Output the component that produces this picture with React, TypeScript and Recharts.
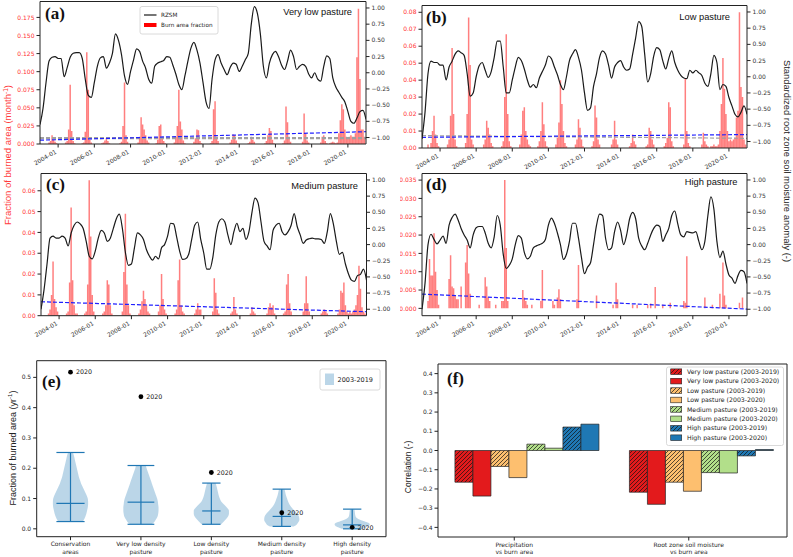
import React from 'react';
import {
  ComposedChart,
  BarChart,
  Bar,
  Line,
  Area,
  XAxis,
  YAxis,
  ReferenceLine,
  ReferenceDot,
} from 'recharts';

const FONT = 'DejaVu Sans';
const LABEL_FONT = 'Liberation Sans';

// ---------- panels (a)-(d): monthly burned fraction + RZSM ----------
const dateTicks = [2004, 2006, 2008, 2010, 2012, 2014, 2016, 2018, 2020];
const rzTicks = [-1, -0.75, -0.5, -0.25, 0, 0.25, 0.5, 0.75, 1];

// monthly values Jan..Dec, 2003 to 2020
const burnA = [
  0, 0, 0, 0, 0, 0, 0.002, 0.004, 0.012, 0.006, 0.003, 0.001,
  0, 0, 0, 0, 0, 0.002, 0.004, 0.02, 0.082, 0.018, 0.004, 0.001,
  0, 0, 0, 0, 0.001, 0.002, 0.017, 0.127, 0.075, 0.006, 0.002, 0,
  0, 0, 0, 0, 0, 0.001, 0.002, 0.005, 0.008, 0.004, 0.001, 0,
  0, 0, 0, 0, 0, 0.001, 0.003, 0.025, 0.085, 0.012, 0.003, 0,
  0, 0, 0, 0, 0, 0.002, 0.01, 0.037, 0.027, 0.02, 0.012, 0.005,
  0.002, 0, 0, 0, 0, 0.001, 0.006, 0.025, 0.027, 0.01, 0.004, 0.001,
  0, 0, 0, 0, 0, 0.002, 0.01, 0.025, 0.075, 0.031, 0.02, 0.005,
  0.001, 0, 0, 0, 0, 0, 0.003, 0.008, 0.02, 0.019, 0.004, 0.001,
  0, 0, 0, 0, 0, 0.001, 0.004, 0.048, 0.059, 0.01, 0.004, 0,
  0, 0, 0, 0, 0, 0, 0.002, 0.006, 0.013, 0.012, 0.005, 0.001,
  0, 0, 0, 0, 0, 0, 0.001, 0.003, 0.01, 0.006, 0.003, 0,
  0, 0, 0, 0, 0, 0.001, 0.004, 0.012, 0.022, 0.018, 0.006, 0.001,
  0, 0, 0, 0, 0, 0.001, 0.005, 0.052, 0.03, 0.01, 0.003, 0,
  0, 0, 0, 0, 0, 0, 0.003, 0.042, 0.015, 0.005, 0.002, 0,
  0, 0, 0, 0, 0, 0, 0.002, 0.01, 0.012, 0.004, 0.001, 0,
  0.001, 0.002, 0.003, 0.002, 0.001, 0.002, 0.015, 0.033, 0.055, 0.048, 0.02, 0.01,
  0.008, 0.01, 0.012, 0.01, 0.01, 0.015, 0.12, 0.187, 0.09, 0.02, 0.02, 0.01,
];

const burnB = [
  0, 0, 0, 0, 0.002, 0, 0.003, 0.01, 0.019, 0.008, 0.003, 0.001,
  0, 0, 0, 0, 0, 0.002, 0.005, 0.019, 0.059, 0.02, 0.005, 0.001,
  0, 0, 0, 0, 0, 0.003, 0.02, 0.077, 0.049, 0.005, 0.002, 0,
  0, 0, 0, 0, 0, 0.002, 0.005, 0.016, 0.012, 0.008, 0.003, 0.001,
  0, 0, 0, 0, 0, 0.001, 0.004, 0.03, 0.067, 0.02, 0.004, 0.001,
  0, 0, 0, 0, 0, 0.002, 0.008, 0.022, 0.024, 0.01, 0.005, 0.002,
  0.001, 0, 0, 0, 0, 0.001, 0.004, 0.01, 0.027, 0.014, 0.004, 0.001,
  0, 0, 0, 0, 0, 0.002, 0.006, 0.015, 0.04, 0.026, 0.01, 0.003,
  0.001, 0, 0, 0, 0, 0, 0.002, 0.005, 0.017, 0.012, 0.005, 0.001,
  0, 0, 0, 0, 0, 0.001, 0.004, 0.025, 0.018, 0.005, 0.002, 0,
  0, 0, 0, 0, 0, 0, 0.002, 0.005, 0.016, 0.005, 0.002, 0,
  0, 0, 0, 0, 0, 0, 0.001, 0.003, 0.008, 0.004, 0.002, 0,
  0, 0, 0, 0, 0, 0.001, 0.002, 0.012, 0.01, 0.005, 0.002, 0,
  0, 0, 0, 0, 0, 0.001, 0.003, 0.006, 0.027, 0.024, 0.004, 0.001,
  0, 0, 0, 0, 0, 0, 0.002, 0.041, 0.01, 0.003, 0.001, 0,
  0, 0, 0, 0, 0, 0, 0.002, 0.009, 0.004, 0.002, 0.001, 0,
  0.001, 0.001, 0.002, 0.001, 0.001, 0.002, 0.01, 0.026, 0.053, 0.035, 0.02, 0.01,
  0.004, 0.005, 0.004, 0.005, 0.006, 0.018, 0.022, 0.08, 0.036, 0.03, 0.005, 0.002,
];

const burnC = [
  0, 0, 0, 0, 0, 0.001, 0.003, 0.01, 0.026, 0.008, 0.004, 0.002,
  0, 0, 0, 0, 0, 0.001, 0.002, 0.016, 0.052, 0.017, 0.005, 0.001,
  0.001, 0, 0, 0, 0, 0.001, 0.002, 0.015, 0.065, 0.038, 0.01, 0.002,
  0, 0, 0, 0, 0, 0.001, 0.002, 0.005, 0.017, 0.015, 0.005, 0.001,
  0, 0, 0, 0, 0, 0, 0.002, 0.021, 0.049, 0.015, 0.005, 0.001,
  0, 0, 0, 0, 0, 0.001, 0.003, 0.007, 0.012, 0.008, 0.005, 0.002,
  0.001, 0, 0, 0, 0, 0, 0.002, 0.005, 0.02, 0.008, 0.003, 0.001,
  0, 0, 0, 0, 0, 0.001, 0.003, 0.017, 0.027, 0.005, 0.002, 0.001,
  0, 0, 0, 0, 0, 0, 0.001, 0.003, 0.006, 0.003, 0.003, 0,
  0, 0, 0, 0, 0, 0, 0.002, 0.018, 0.011, 0.003, 0.001, 0,
  0, 0, 0, 0, 0, 0, 0.001, 0.002, 0.009, 0.003, 0.001, 0,
  0, 0, 0, 0, 0, 0, 0, 0.001, 0.004, 0.002, 0.001, 0,
  0, 0, 0, 0, 0, 0, 0.001, 0.004, 0.006, 0.004, 0.005, 0.001,
  0, 0, 0, 0, 0, 0.001, 0.002, 0.015, 0.02, 0.006, 0.002, 0,
  0, 0, 0, 0, 0, 0, 0.002, 0.006, 0.019, 0.006, 0.002, 0,
  0, 0, 0, 0, 0, 0, 0.001, 0.002, 0.003, 0.002, 0.001, 0,
  0, 0, 0, 0, 0, 0.001, 0.003, 0.012, 0.011, 0.016, 0.005, 0.002,
  0.001, 0.002, 0.001, 0.002, 0.003, 0.005, 0.01, 0.024, 0.013, 0.004, 0.002, 0.001,
];

const burnD = [
  0, 0, 0, 0, 0.002, 0.0135, 0.009, 0.009, 0.0205, 0.01, 0.005, 0.001,
  0, 0, 0, 0, 0, 0, 0.008, 0.0145, 0.006, 0.0055, 0.0035, 0.0025,
  0.0025, 0, 0.006, 0, 0, 0.0125, 0.0173, 0.0095, 0.004, 0, 0, 0,
  0, 0, 0.001, 0, 0, 0, 0.0085, 0.006, 0.003, 0.002, 0, 0,
  0, 0.001, 0, 0, 0, 0.002, 0.002, 0.035, 0.0165, 0.002, 0, 0,
  0, 0, 0, 0, 0, 0, 0, 0.005, 0.003, 0.002, 0.001, 0,
  0, 0.001, 0, 0, 0, 0, 0, 0.002, 0.0105, 0, 0, 0,
  0, 0, 0, 0.002, 0.001, 0, 0.003, 0.0052, 0.0025, 0, 0, 0,
  0, 0, 0, 0, 0, 0, 0, 0.0025, 0.0118, 0, 0, 0,
  0, 0, 0, 0, 0, 0, 0, 0, 0.0035, 0, 0, 0,
  0, 0, 0, 0, 0, 0, 0, 0.001, 0, 0.007, 0.0025, 0,
  0, 0, 0, 0, 0, 0, 0, 0, 0.001, 0, 0, 0.001,
  0, 0, 0, 0, 0, 0, 0.001, 0, 0.0013, 0, 0, 0.0058,
  0, 0, 0, 0, 0.001, 0, 0, 0, 0, 0.0015, 0, 0,
  0, 0, 0, 0, 0, 0, 0.002, 0.0015, 0.0142, 0, 0, 0,
  0, 0, 0, 0, 0, 0, 0, 0, 0.003, 0, 0, 0,
  0, 0.001, 0, 0, 0, 0, 0.004, 0, 0.0125, 0.0035, 0.001, 0,
  0, 0, 0, 0, 0, 0, 0, 0.0015, 0, 0.003, 0, 0,
];

// RZSM anomaly, every second month from 2003-01 to 2021-01
const rzA = [
  -0.8, -0.55, -0.15, 0.18, 0.24, 0.25, 0.22, 0.22, -0.06, 0.08, 0.24, 0.3, 0.31,
  0.31, 0.22, -0.1, -0.35, -0.38, -0.15, 0.1, 0.23, 0.25, 0.07, 0.15, 0.3, 0.6,
  0.5, 0.28, -0.05, -0.18, 0.02, 0.2, 0.37, 0.33, 0.18, 0.07, -0.1, -0.16, 0.1,
  0.15, 0.17, 0.19, 0.25, 0.24, 0.12, -0.02, -0.18, -0.26, -0.05, 0.18, 0.38, 0.47,
  0.35, 0.15, -0.15, -0.45, -0.55, -0.1, 0.2, 0.28, 0.15, 0.05, -0.03, 0.08, 0.15,
  0.13, 0.02, 0.1, 0.2, 0.3, 0.75, 1.02, 0.92, 0.6, 0.1, -0.08, 0.15, 0.28,
  0.33, 0.25, 0.12, 0.05, 0.18, 0.35, 0.25, 0.05, 0.1, 0.13, 0.1, -0.02, -0.08,
  0.0, -0.1, -0.13, 0.1, 0.26, 0.22, -0.08, -0.22, -0.3, -0.38, -0.45, -0.6, -0.75,
  -0.78, -0.7, -0.6, -0.58, -0.72,
];

const rzB = [
  -0.96, -0.55, 0.05, 0.24, 0.22, 0.22, 0.18, 0.18, -0.05, 0.15, 0.24, 0.35, 0.4,
  0.37, 0.33, 0.05, -0.3, -0.25, 0.0, 0.17, 0.22, 0.1, -0.01, 0.08, 0.3, 0.55,
  0.55, 0.15, -0.25, -0.25, -0.05, 0.15, 0.3, 0.25, 0.12, -0.05, -0.16, -0.12, -0.17,
  -0.02, 0.08, 0.18, 0.32, 0.28, 0.15, 0.03, -0.12, -0.2, 0.0, 0.25, 0.35, 0.42,
  0.3, 0.1, -0.25, -0.52, -0.48, -0.15, 0.05, 0.3, 0.4, 0.35, 0.18, -0.02, 0.15,
  0.22, 0.25, 0.15, 0.1, 0.12, 0.35, 0.6, 0.85, 0.78, 0.35, -0.08, 0.05, 0.32,
  0.45, 0.42, 0.25, 0.12, 0.28, 0.4, 0.22, 0.1, 0.02, -0.02, -0.03, 0.1, 0.06,
  0.1, 0.06, 0.02, -0.1, -0.15, 0.05, 0.33, 0.22, -0.2, -0.12, -0.15, -0.32, -0.45,
  -0.58, -0.62, -0.55, -0.45, -0.58,
];

const rzC = [
  -1.0, -0.7, -0.3, 0.1, 0.13, 0.1, 0.1, 0.13, 0.1, -0.02, 0.18, 0.3, 0.35,
  0.32, 0.25, 0.05, -0.18, -0.22, -0.1, 0.1, 0.22, 0.18, 0.05, 0.1, 0.25, 0.4,
  0.47, 0.25, -0.12, -0.32, -0.3, -0.05, 0.18, 0.15, 0.08, -0.08, -0.18, -0.24, -0.18,
  -0.22, -0.05, 0.0, 0.13, 0.33, 0.32, 0.12, -0.1, -0.23, -0.22, -0.15, 0.08, 0.3,
  0.35, 0.08, -0.13, -0.38, -0.38, -0.2, 0.15, 0.35, 0.4, 0.35, 0.15, 0.0, 0.2,
  0.33, 0.2, 0.25, 0.08, 0.2, 0.5, 0.72, 0.65, 0.35, 0.05, -0.02, -0.08, 0.22,
  0.3, 0.33, 0.2, 0.15, 0.2, 0.3, 0.48, 0.28, 0.15, 0.02, 0.07, 0.09, 0.1,
  0.09, 0.09, 0.08, 0.02, 0.2, 0.48, 0.32, 0.05, -0.15, -0.12, -0.3, -0.45, -0.55,
  -0.57, -0.48, -0.46, -0.38, -0.55,
];

const rzD = [
  -1.0, -0.6, 0.0, 0.16, 0.08, 0.01, 0.07, 0.13, 0.02, 0.3, 0.42, 0.47, 0.38,
  0.25, 0.15, 0.07, -0.05, 0.15, 0.26, 0.28, 0.28, 0.18, 0.02, -0.05, 0.12, 0.45,
  0.3, -0.15, -0.37, -0.32, -0.22, 0.0, 0.14, 0.1, -0.12, -0.22, -0.18, -0.05, -0.02,
  0.0, 0.02, 0.08, 0.3, 0.41, 0.33, 0.18, 0.0, -0.23, -0.15, 0.05, 0.33, 0.33,
  0.1, -0.2, -0.45, -0.35, -0.28, 0.0, 0.3, 0.47, 0.45, 0.1, -0.08, -0.05, 0.2,
  0.35, 0.22, 0.0, 0.15, 0.4, 0.5, 0.4, 0.1, -0.02, -0.08, 0.02, 0.15, 0.25,
  0.3, 0.28, 0.05, 0.15, 0.25, 0.45, 0.52, 0.32, 0.15, 0.12, 0.2, 0.19, 0.18,
  0.2, 0.05, -0.08, 0.05, 0.45, 0.74, 0.55, 0.05, -0.2, -0.1, -0.3, -0.47, -0.52,
  -0.6, -0.48, -0.4, -0.42, -0.6,
];

// trend lines: value at 2003-01 and at 2021-01
const trendsA = [
  { ends: [0.009, 0.009], color: '#a0a0a0' },
  { ends: [0.0073, 0.0073], color: '#a0a0a0' },
  { ends: [0.0053, 0.017], color: '#2020ff' },
];
const trendsB = [
  { ends: [0.0073, 0.0057], color: '#a0a0a0' },
  { ends: [0.0063, 0.0079], color: '#2020ff' },
];
const trendsC = [{ ends: [0.0067, 0.0019], color: '#2020ff' }];
const trendsD = [{ ends: [0.0039, -0.0002], color: '#2020ff' }];

const ticksA = [0, 0.025, 0.05, 0.075, 0.1, 0.125, 0.15, 0.175];
const ticksB = [0, 0.01, 0.02, 0.03, 0.04, 0.05, 0.06, 0.07, 0.08];
const ticksC = [0, 0.01, 0.02, 0.03, 0.04, 0.05, 0.06];
const ticksD = [0, 0.005, 0.01, 0.015, 0.02, 0.025, 0.03, 0.035];

// ---------- panel (e): violins ----------
const violinPos = [1, 2, 3, 4, 5];
const violinNames = [
  ['Conservation', 'areas'],
  ['Very low density', 'pasture'],
  ['Low density', 'pasture'],
  ['Medium density', 'pasture'],
  ['High density', 'pasture'],
];
const violinMin = [0.024, 0.015, 0.015, 0.008, 0.0];
const violinMax = [0.252, 0.209, 0.151, 0.131, 0.065];
const violinMed = [0.084, 0.088, 0.059, 0.041, 0.013];
const violinCap = [0.2, 0.19, 0.13, 0.13, 0.13];
const burned2020 = [0.517, 0.436, 0.186, 0.053, 0.005];
const violinYTicks = [0, 0.1, 0.2, 0.3, 0.4, 0.5];

const violinY = [
  [0.024, 0.03, 0.04, 0.05, 0.06, 0.07, 0.08, 0.09, 0.1, 0.11, 0.12, 0.13, 0.14, 0.15, 0.16, 0.17, 0.18, 0.19, 0.2, 0.21, 0.22, 0.23, 0.24, 0.252],
  [0.015, 0.02, 0.03, 0.04, 0.05, 0.06, 0.07, 0.08, 0.09, 0.1, 0.11, 0.12, 0.13, 0.14, 0.15, 0.16, 0.17, 0.18, 0.19, 0.2, 0.209],
  [0.015, 0.02, 0.03, 0.04, 0.05, 0.06, 0.07, 0.08, 0.09, 0.1, 0.11, 0.12, 0.13, 0.14, 0.151],
  [0.008, 0.01, 0.02, 0.03, 0.04, 0.05, 0.06, 0.07, 0.08, 0.09, 0.1, 0.11, 0.12, 0.131],
  [0.0, 0.005, 0.01, 0.015, 0.02, 0.025, 0.03, 0.035, 0.04, 0.05, 0.06, 0.065],
];
// half widths of each violin body
const violinW = [
  [0.17, 0.19, 0.21, 0.225, 0.235, 0.245, 0.25, 0.25, 0.245, 0.23, 0.21, 0.19, 0.17, 0.15, 0.135, 0.12, 0.11, 0.1, 0.09, 0.08, 0.07, 0.06, 0.05, 0.035],
  [0.15, 0.18, 0.21, 0.235, 0.245, 0.25, 0.25, 0.245, 0.24, 0.23, 0.215, 0.2, 0.185, 0.17, 0.155, 0.14, 0.125, 0.11, 0.095, 0.08, 0.07],
  [0.14, 0.16, 0.2, 0.235, 0.25, 0.25, 0.22, 0.18, 0.14, 0.12, 0.105, 0.095, 0.085, 0.075, 0.06],
  [0.17, 0.19, 0.23, 0.25, 0.245, 0.22, 0.18, 0.14, 0.11, 0.09, 0.075, 0.06, 0.05, 0.04],
  [0.15, 0.2, 0.24, 0.25, 0.23, 0.17, 0.11, 0.07, 0.05, 0.04, 0.035, 0.03],
];

// ---------- panel (f): correlations ----------
const corrCats = [
  ['Precipitation', 'vs burn area'],
  ['Root zone soil moisture', 'vs burn area'],
];
const vl19 = [-0.165, -0.217];
const vl20 = [-0.237, -0.28];
const lo19 = [-0.083, -0.165];
const lo20 = [-0.141, -0.212];
const me19 = [0.033, -0.115];
const me20 = [0.012, -0.117];
const hi19 = [0.122, -0.028];
const hi20 = [0.137, 0.005];
const corrTicks = [-0.4, -0.3, -0.2, -0.1, 0, 0.1, 0.2, 0.3, 0.4];

const RED = '#e31a1c';
const ORANGE = '#fdbf6f';
const GREEN = '#b2df8a';
const BLUE = '#1f78b4';

const corrSeries = [
  { key: 'vl19', color: RED, hatch: true, name: 'Very low pasture (2003-2019)' },
  { key: 'vl20', color: RED, hatch: false, name: 'Very low pasture (2003-2020)' },
  { key: 'lo19', color: ORANGE, hatch: true, name: 'Low pasture (2003-2019)' },
  { key: 'lo20', color: ORANGE, hatch: false, name: 'Low pasture (2003-2020)' },
  { key: 'me19', color: GREEN, hatch: true, name: 'Medium pasture (2003-2019)' },
  { key: 'me20', color: GREEN, hatch: false, name: 'Medium pasture (2003-2020)' },
  { key: 'hi19', color: BLUE, hatch: true, name: 'High pasture (2003-2019)' },
  { key: 'hi20', color: BLUE, hatch: false, name: 'High pasture (2003-2020)' },
];

const signed = (v: number, d: number) => (v < -1e-9 ? '\u2212' : '') + Math.abs(v).toFixed(d);

const hatchDefs = (prefix: string) =>
  [RED, ORANGE, GREEN, BLUE].map((c, i) => (
    <pattern key={i} id={`${prefix}${i}`} patternUnits="userSpaceOnUse" width={4} height={4}>
      <rect width={4} height={4} fill={c} />
      <path d="M-1,1 L1,-1 M0,4 L4,0 M3,5 L5,3" stroke="#111" strokeWidth={0.7} />
    </pattern>
  ));
const colorIdx = (c: string) => [RED, ORANGE, GREEN, BLUE].indexOf(c);

const DateTick = (p: any) => (
  <text
    transform={`translate(${p.x - 1},${p.y + 3.5}) rotate(-30)`}
    textAnchor="end"
    fontSize={6}
    fill="#333"
    fontFamily={FONT}
  >
    {`${p.payload.value}-01`}
  </text>
);

type Trend = { ends: number[]; color: string };
type TopProps = {
  left: number;
  top: number;
  width: number;
  height: number;
  mt: number;
  yl: number;
  yr: number;
  xh: number;
  burn: number[];
  rz: number[];
  domain: number[];
  ticks: number[];
  dec: number;
  trends: Trend[];
};

function TopPanel(p: TopProps) {
  const rows = p.burn.map((b, i) => ({ t: 2003 + i / 12, b }));
  const rzRows = p.rz.map((v, k) => ({ t: 2003 + k / 6, v }));
  return (
    <div style={{ position: 'absolute', left: p.left, top: p.top }}>
      <ComposedChart
        width={p.width}
        height={p.height}
        data={rows}
        margin={{ top: p.mt, right: 0, bottom: 0, left: 0 }}
      >
        <XAxis
          dataKey="t"
          type="number"
          domain={[2003, 2021]}
          allowDataOverflow
          ticks={dateTicks}
          interval={0}
          tick={DateTick}
          tickSize={3.5}
          height={p.xh}
          stroke="#222"
        />
        <YAxis
          yAxisId="l"
          type="number"
          domain={p.domain}
          allowDataOverflow
          ticks={p.ticks}
          interval={0}
          tickFormatter={(v: number) => v.toFixed(p.dec)}
          width={p.yl}
          tickSize={3.5}
          stroke="#222"
          tick={{ fontSize: 6, fill: '#ff3030', fontFamily: FONT }}
        />
        <YAxis
          yAxisId="r"
          orientation="right"
          type="number"
          domain={[-1.1, 1.1]}
          allowDataOverflow
          ticks={rzTicks}
          interval={0}
          tickFormatter={(v: number) => signed(v, 2)}
          width={p.yr}
          tickSize={3.5}
          stroke="#222"
          tick={{ fontSize: 6, fill: '#333', fontFamily: FONT }}
        />
        <ReferenceLine yAxisId="l" y={p.domain[1]} stroke="#222" />
        <Bar
          yAxisId="l"
          dataKey="b"
          fill="#ff0000"
          fillOpacity={0.5}
          barSize={1.5}
          isAnimationActive={false}
        />
        {p.trends.map((tr, i) => (
          <Line
            key={i}
            yAxisId="l"
            data={[
              { t: 2003, v: tr.ends[0] },
              { t: 2021, v: tr.ends[1] },
            ]}
            dataKey="v"
            stroke={tr.color}
            strokeWidth={1.2}
            strokeDasharray="4 2"
            dot={false}
            isAnimationActive={false}
          />
        ))}
        <Line
          yAxisId="r"
          data={rzRows}
          dataKey="v"
          type="monotone"
          stroke="#1a1a1a"
          strokeWidth={1.2}
          dot={false}
          isAnimationActive={false}
        />
      </ComposedChart>
    </div>
  );
}

const ViolinTick = (p: any) => {
  const idx = violinPos.indexOf(p.payload.value);
  const lines = violinNames[idx] || [];
  return (
    <g>
      {lines.map((s, j) => (
        <text
          key={j}
          x={p.x}
          y={p.y + 4 + j * 7.3}
          textAnchor="middle"
          fontSize={6}
          fill="#262626"
          fontFamily={FONT}
        >
          {s}
        </text>
      ))}
    </g>
  );
};

function ViolinPanel() {
  const stat = '#1f77b4';
  return (
    <div style={{ position: 'absolute', left: 0, top: 355 }}>
      <ComposedChart
        layout="vertical"
        width={395}
        height={202}
        margin={{ top: 5.7, right: 9, bottom: 0, left: 0 }}
      >
        <XAxis
          type="number"
          domain={[0.52, 5.48]}
          allowDataOverflow
          ticks={violinPos}
          interval={0}
          tick={ViolinTick}
          tickSize={3.5}
          height={20.3}
          stroke="#222"
        />
        <YAxis
          type="number"
          dataKey="y"
          reversed
          domain={[-0.026, 0.555]}
          allowDataOverflow
          ticks={violinYTicks}
          interval={0}
          tickFormatter={(v: number) => v.toFixed(1)}
          width={36.7}
          tickSize={3.5}
          stroke="#222"
          tick={{ fontSize: 6, fill: '#262626', fontFamily: FONT }}
        />
        <ReferenceLine y={0.555} stroke="#222" />
        <ReferenceLine x={5.48} stroke="#222" />
        {violinY.map((ys, i) => (
          <Area
            key={`v${i}`}
            data={ys.map((y, j) => ({
              y,
              r: [violinPos[i] - violinW[i][j], violinPos[i] + violinW[i][j]],
            }))}
            dataKey="r"
            type="monotone"
            fill="#1f77b4"
            fillOpacity={0.3}
            stroke="none"
            isAnimationActive={false}
          />
        ))}
        {violinPos.map((x, i) => (
          <ReferenceLine
            key={`s${i}`}
            segment={[
              { x, y: violinMin[i] },
              { x, y: violinMax[i] },
            ]}
            stroke={stat}
            strokeWidth={1.2}
          />
        ))}
        {violinPos.map((x, i) =>
          [violinMin[i], violinMax[i], violinMed[i]].map((y, j) => (
            <ReferenceLine
              key={`c${i}-${j}`}
              segment={[
                { x: x - violinCap[i], y },
                { x: x + violinCap[i], y },
              ]}
              stroke={stat}
              strokeWidth={1.2}
            />
          ))
        )}
        {violinPos.map((x, i) => (
          <ReferenceDot
            key={`d${i}`}
            x={x}
            y={burned2020[i]}
            r={2.4}
            fill="#000"
            stroke="none"
            label={{
              value: '2020',
              position: 'right',
              offset: 3,
              fontSize: 6.3,
              fill: '#111',
              fontFamily: FONT,
            }}
          />
        ))}
      </ComposedChart>
    </div>
  );
}

const CorrTick = (p: any) => {
  const lines = corrCats[p.index] || [];
  const x = p.x - 11;
  return (
    <g>
      <line x1={x} x2={x} y1={p.y - 5.5} y2={p.y - 2} stroke="#222" />
      {lines.map((s, j) => (
        <text
          key={j}
          x={x}
          y={p.y + 4 + j * 7.3}
          textAnchor="middle"
          fontSize={6}
          fill="#262626"
          fontFamily={FONT}
        >
          {s}
        </text>
      ))}
    </g>
  );
};

function CorrPanel() {
  const rows = corrCats.map((c, i) => ({
    cat: c[0],
    vl19: vl19[i],
    vl20: vl20[i],
    lo19: lo19[i],
    lo20: lo20[i],
    me19: me19[i],
    me20: me20[i],
    hi19: hi19[i],
    hi20: hi20[i],
  }));
  return (
    <div style={{ position: 'absolute', left: 400, top: 355 }}>
      <BarChart
        width={393}
        height={202}
        data={rows}
        margin={{ top: 9, right: 5, bottom: 0, left: 0 }}
        barGap={0}
        barCategoryGap="9.7%"
      >
        <defs>{hatchDefs('fh')}</defs>
        <XAxis
          dataKey="cat"
          interval={0}
          tick={CorrTick}
          tickLine={false}
          tickSize={3.5}
          height={20}
          stroke="#222"
        />
        <YAxis
          type="number"
          domain={[-0.45, 0.45]}
          allowDataOverflow
          ticks={corrTicks}
          interval={0}
          tickFormatter={(v: number) => signed(v, 1)}
          width={38}
          tickSize={3.5}
          stroke="#222"
          tick={{ fontSize: 6, fill: '#262626', fontFamily: FONT }}
        />
        <YAxis yAxisId="rb" orientation="right" tick={false} tickLine={false} width={1} stroke="#222" />
        <ReferenceLine y={0.45} stroke="#222" />
        {corrSeries.map((s) => (
          <Bar
            key={s.key}
            dataKey={s.key}
            fill={s.hatch ? `url(#fh${colorIdx(s.color)})` : s.color}
            stroke="#222"
            strokeWidth={0.7}
            isAnimationActive={false}
          />
        ))}
      </BarChart>
    </div>
  );
}

const panelTags = [
  { t: '(a)', x: 45, y: 19 },
  { t: '(b)', x: 426, y: 23 },
  { t: '(c)', x: 46, y: 190 },
  { t: '(d)', x: 426, y: 190 },
  { t: '(e)', x: 42, y: 387 },
  { t: '(f)', x: 447, y: 384 },
];
const panelNames = [
  { t: 'Very low pasture', x: 352, y: 14.5 },
  { t: 'Low pasture', x: 730, y: 19.5 },
  { t: 'Medium pasture', x: 358, y: 189 },
  { t: 'High pasture', x: 737.5, y: 184.5 },
];

function Overlay() {
  return (
    <svg
      width={793}
      height={557}
      style={{ position: 'absolute', left: 0, top: 0, pointerEvents: 'none' }}
    >
      <defs>{hatchDefs('lh')}</defs>
      {panelTags.map((p) => (
        <text
          key={p.t}
          x={p.x}
          y={p.y}
          fontFamily="Liberation Serif"
          fontWeight="bold"
          fontSize={17}
          fill="#111"
        >
          {p.t}
        </text>
      ))}
      {panelNames.map((p) => (
        <text key={p.t} x={p.x} y={p.y} textAnchor="end" fontFamily={LABEL_FONT} fontSize={9.3} fill="#111">
          {p.t}
        </text>
      ))}

      {/* legend (a) */}
      <rect x={140} y={6.5} width={78} height={27.5} rx={2} fill="#fff" fillOpacity={0.85} stroke="#d0d0d0" strokeWidth={0.8} />
      <line x1={144} x2={156.5} y1={15} y2={15} stroke="#1a1a1a" strokeWidth={1.2} />
      <text x={161} y={17} fontSize={5.7} fontFamily={FONT} fill="#222">RZSM</text>
      <rect x={144} y={23} width={12.5} height={4} fill="#ff0000" />
      <text x={161} y={27} fontSize={5.7} fontFamily={FONT} fill="#222">Burn area fraction</text>

      {/* axis titles, top */}
      <text
        transform="translate(11,155) rotate(-90)"
        textAnchor="middle"
        fontFamily={LABEL_FONT}
        fontSize={9.5}
        fill="#ff3b3b"
      >
        Fraction of burned area (month
        <tspan dy={-3.5} fontSize={6.5}>-1</tspan>
        <tspan dy={3.5}>)</tspan>
      </text>
      <text
        transform="translate(784,161) rotate(90)"
        textAnchor="middle"
        fontFamily={LABEL_FONT}
        fontSize={9.4}
        fill="#222"
      >
        Standardized root zone soil moisture anomaly (-)
      </text>

      {/* axis titles, bottom */}
      <text
        transform="translate(15.5,448) rotate(-90)"
        textAnchor="middle"
        fontFamily={LABEL_FONT}
        fontSize={9}
        fill="#222"
      >
        Fraction of burned area (yr
        <tspan dy={-3.5} fontSize={6}>-1</tspan>
        <tspan dy={3.5}>)</tspan>
      </text>
      <text
        transform="translate(411,467) rotate(-90)"
        textAnchor="middle"
        fontFamily={LABEL_FONT}
        fontSize={8.5}
        fill="#222"
      >
        Correlation (-)
      </text>

      {/* legend (e) */}
      <rect x={320} y={369} width={60} height={21} rx={2} fill="#fff" stroke="#d0d0d0" strokeWidth={0.8} />
      <rect x={325} y={373.5} width={9} height={11.5} fill="#1f77b4" fillOpacity={0.3} />
      <text x={337.5} y={381.5} fontSize={6.5} fontFamily={FONT} fill="#222">2003-2019</text>

      {/* legend (f) */}
      <rect x={666.5} y={367} width={117} height={78.5} rx={2} fill="#fff" fillOpacity={0.85} stroke="#d0d0d0" strokeWidth={0.8} />
      {corrSeries.map((s, j) => {
        const cy = 371.7 + j * 9.43;
        return (
          <g key={s.key}>
            <rect
              x={670.7}
              y={cy - 2.8}
              width={11}
              height={5.6}
              fill={s.hatch ? `url(#lh${colorIdx(s.color)})` : s.color}
              stroke="#222"
              strokeWidth={0.6}
            />
            <text x={687} y={cy + 2.2} fontSize={6.2} fontFamily={FONT} fill="#222">
              {s.name}
            </text>
          </g>
        );
      })}
    </svg>
  );
}

export default function App() {
  return (
    <div
      style={{
        position: 'absolute',
        left: 0,
        top: 0,
        width: 793,
        height: 557,
        background: '#fff',
        overflow: 'hidden',
      }}
    >
      <TopPanel left={0} top={0} width={400} height={175} mt={1.5} yl={40} yr={34} xh={31}
        burn={burnA} rz={rzA} domain={[0, 0.197]} ticks={ticksA} dec={3} trends={trendsA} />
      <TopPanel left={400} top={0} width={380} height={180} mt={5.5} yl={22} yr={33} xh={32}
        burn={burnB} rz={rzB} domain={[0, 0.084]} ticks={ticksB} dec={2} trends={trendsB} />
      <TopPanel left={0} top={170} width={400} height={178} mt={3.5} yl={41} yr={33.5} xh={32.3}
        burn={burnC} rz={rzC} domain={[0, 0.0683]} ticks={ticksC} dec={2} trends={trendsC} />
      <TopPanel left={400} top={170} width={380} height={178} mt={3.5} yl={22} yr={33} xh={32.3}
        burn={burnD} rz={rzD} domain={[-0.002, 0.0368]} ticks={ticksD} dec={3} trends={trendsD} />
      <ViolinPanel />
      <CorrPanel />
      <Overlay />
    </div>
  );
}
